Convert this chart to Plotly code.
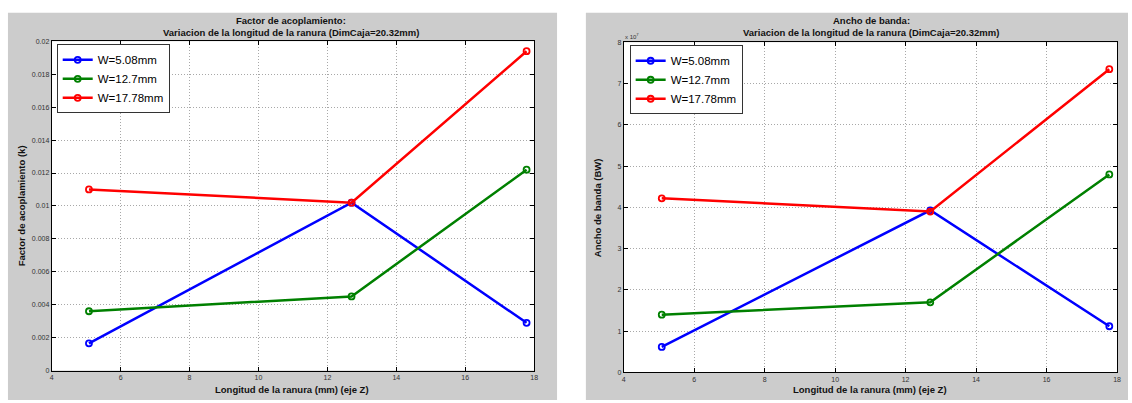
import plotly.graph_objects as go

# Slot length (mm) along Z
longitud = [5.08, 12.7, 17.78]

# Slot widths
anchos = ["W=5.08mm", "W=12.7mm", "W=17.78mm"]
colores = ["#0000ff", "#008000", "#ff0000"]

# Coupling factor k for each width
k_w508 = [0.00165, 0.0102, 0.0029]
k_w127 = [0.0036, 0.0045, 0.0122]
k_w1778 = [0.0110, 0.0102, 0.0194]

# Bandwidth (Hz) for each width
bw_w508 = [0.62e7, 3.93e7, 1.12e7]
bw_w127 = [1.40e7, 1.70e7, 4.80e7]
bw_w1778 = [4.22e7, 3.90e7, 7.35e7]

x_ticks = [4, 6, 8, 10, 12, 14, 16, 18]
k_ticks = [0, 0.002, 0.004, 0.006, 0.008, 0.01, 0.012, 0.014, 0.016, 0.018, 0.02]
k_ticktext = ["0", "0.002", "0.004", "0.006", "0.008", "0.01", "0.012", "0.014", "0.016", "0.018", "0.02"]
bw_ticks = [i * 1e7 for i in range(9)]
bw_ticktext = [str(i) for i in range(9)]

W, H = 1132, 403
FONT = "Liberation Sans, Arial, sans-serif"
GREY = "#cccccc"

# plot-area boxes in pixels (left, right, top, bottom)
AREA1 = (50, 535, 38, 373)
AREA2 = (625, 1121, 39, 375)


def px_x(p):
    return p / W


def px_y(p):
    return 1 - p / H


fig = go.Figure()

for name, col, ys in zip(anchos, colores, [k_w508, k_w127, k_w1778]):
    fig.add_trace(go.Scatter(
        x=longitud, y=ys, name=name, mode="lines+markers",
        line=dict(color=col, width=2.5),
        marker=dict(symbol="circle-open", size=6, color=col, line=dict(width=1.8, color=col)),
        xaxis="x", yaxis="y", legend="legend",
    ))

for name, col, ys in zip(anchos, colores, [bw_w508, bw_w127, bw_w1778]):
    fig.add_trace(go.Scatter(
        x=longitud, y=ys, name=name, mode="lines+markers",
        line=dict(color=col, width=2.5),
        marker=dict(symbol="circle-open", size=6, color=col, line=dict(width=1.8, color=col)),
        xaxis="x2", yaxis="y2", legend="legend2",
    ))

axis_common = dict(
    showline=True, linecolor="black", linewidth=1, mirror="ticks",
    ticks="inside", ticklen=4, tickcolor="black",
    showgrid=True, gridcolor="#a8a8a8", griddash="1px,2px", gridwidth=1,
    zeroline=False,
    tickfont=dict(family=FONT, size=7, color="#333333"),
)

legend_common = dict(
    xanchor="left", yanchor="top",
    bgcolor="white", bordercolor="#333333", borderwidth=1,
    font=dict(family=FONT, size=11.5, color="black"),
    tracegroupgap=0, itemwidth=30,
)


def rect(x0, x1, top, bottom, color):
    return dict(type="rect", xref="paper", yref="paper", layer="below",
                x0=px_x(x0), x1=px_x(x1), y0=px_y(bottom), y1=px_y(top),
                fillcolor=color, line=dict(width=0))


fig.update_layout(
    width=W, height=H,
    margin=dict(l=0, r=0, t=0, b=0),
    paper_bgcolor="white",
    plot_bgcolor="white",
    showlegend=True,
    xaxis=dict(domain=[px_x(AREA1[0]), px_x(AREA1[1])], range=[4, 18], tickvals=x_ticks,
               anchor="y", **axis_common),
    yaxis=dict(domain=[px_y(AREA1[3]), px_y(AREA1[2])], range=[0, 0.02], tickvals=k_ticks,
               ticktext=k_ticktext, anchor="x", **axis_common),
    xaxis2=dict(domain=[px_x(AREA2[0]), px_x(AREA2[1])], range=[4, 18], tickvals=x_ticks,
                anchor="y2", **axis_common),
    yaxis2=dict(domain=[px_y(AREA2[3]), px_y(AREA2[2])], range=[0, 8e7], tickvals=bw_ticks,
                ticktext=bw_ticktext, anchor="x2", **axis_common),
    legend=dict(x=px_x(55), y=px_y(41), **legend_common),
    legend2=dict(x=px_x(631), y=px_y(42), **legend_common),
    # grey figure panels, with white axes backgrounds on top
    shapes=[
        rect(6, 558, 9, H, GREY),
        rect(587, W, 9, H, GREY),
        rect(*AREA1, "white"),
        rect(*AREA2, "white"),
    ],
)

title_font = dict(family=FONT, size=9.5, color="#111111")
label_font = dict(family=FONT, size=9.5, color="#111111")

annotations = [
    dict(text="<b>Factor de acoplamiento:</b>", x=px_x(291), y=px_y(17)),
    dict(text="<b>Variacion de la longitud de la ranura (DimCaja=20.32mm)</b>", x=px_x(291), y=px_y(29)),
    dict(text="<b>Ancho de banda:</b>", x=px_x(874), y=px_y(17)),
    dict(text="<b>Variacion de la longitud de la ranura (DimCaja=20.32mm)</b>", x=px_x(874), y=px_y(29)),
    dict(text="<b>Longitud de la ranura (mm) (eje Z)</b>", x=px_x(292), y=px_y(392)),
    dict(text="<b>Longitud de la ranura (mm) (eje Z)</b>", x=px_x(873), y=px_y(392)),
]
for a in annotations:
    fig.add_annotation(xref="paper", yref="paper", xanchor="center", yanchor="middle",
                       showarrow=False, font=title_font, **a)

fig.add_annotation(text="<b>Factor de acoplamiento (k)</b>", xref="paper", yref="paper",
                   x=px_x(20), y=px_y(205), textangle=-90, showarrow=False,
                   xanchor="center", yanchor="middle", font=label_font)
fig.add_annotation(text="<b>Ancho de banda (BW)</b>", xref="paper", yref="paper",
                   x=px_x(599), y=px_y(207), textangle=-90, showarrow=False,
                   xanchor="center", yanchor="middle", font=label_font)
fig.add_annotation(text="x 10<sup>7</sup>", xref="paper", yref="paper",
                   x=px_x(624), y=px_y(33), showarrow=False, xanchor="left", yanchor="middle",
                   font=dict(family=FONT, size=6, color="#333333"))

fig.write_html("out.html")
